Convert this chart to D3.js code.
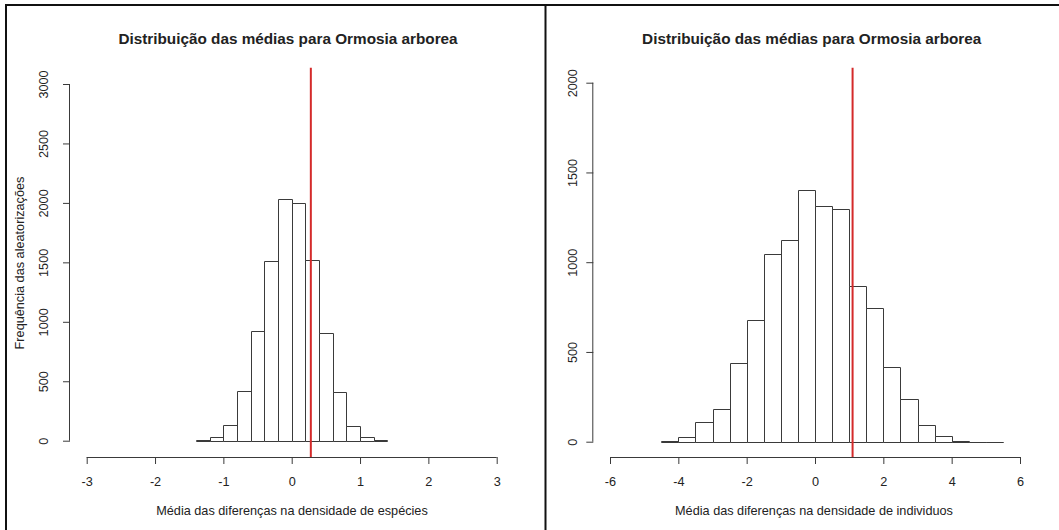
<!DOCTYPE html>
<html lang="pt">
<head>
<meta charset="UTF-8">
<title>Distribuição das médias para Ormosia arborea</title>
<script src="https://cdn.jsdelivr.net/npm/d3@7"></script>
<style>
    body{ margin:0; background:#fff; }
    text{ font-family: "Liberation Sans", Arial, sans-serif; fill:#222; }
    .title{ font-size:15.3px; font-weight:bold; }
    .tick text{ font-size:12.7px; }
    .axlab{ font-size:12.7px; }
</style>
</head>
<body>
<div id="chart"></div>
<script>
    // ---------- data ----------
    const title = "Distribuição das médias para Ormosia arborea";

    const speciesBreaks = [-1.4,-1.2,-1.0,-0.8,-0.6,-0.4,-0.2,0,0.2,0.4,0.6,0.8,1.0,1.2,1.4];
    const speciesCounts = [2,28,132,415,922,1511,2035,1995,1520,908,406,123,28,2];
    const speciesObserved = 0.28;
    const speciesXTicks = [-3,-2,-1,0,1,2,3];
    const speciesYTicks = [0,500,1000,1500,2000,2500,3000];

    const indivBreaks = [-4.5,-4,-3.5,-3,-2.5,-2,-1.5,-1,-0.5,0,0.5,1,1.5,2,2.5,3,3.5,4,4.5,5,5.5];
    const indivCounts = [6,26,110,182,436,678,1044,1122,1402,1311,1298,867,747,414,236,93,30,4,1,1];
    const indivObserved = 1.1;
    const indivXTicks = [-6,-4,-2,0,2,4,6];
    const indivYTicks = [0,500,1000,1500,2000];

    const width = 1059, height = 530;
    const svg = d3.select("#chart").append("svg")
        .attr("width", width).attr("height", height);

    // frame lines of the screenshot
    svg.append("line").attr("x1",6).attr("x2",6).attr("y1",4).attr("y2",height)
        .attr("stroke","#111").attr("stroke-width",2);
    svg.append("line").attr("x1",5).attr("x2",width).attr("y1",5).attr("y2",5)
        .attr("stroke","#111").attr("stroke-width",2);
    svg.append("line").attr("x1",545.5).attr("x2",545.5).attr("y1",4).attr("y2",height)
        .attr("stroke","#111").attr("stroke-width",2);

    function histPanel(o){
        const g = svg.append("g");
        const x = d3.scaleLinear().domain(d3.extent(o.xTicks)).range(o.xRange);
        const y = d3.scaleLinear().domain(d3.extent(o.yTicks)).range(o.yRange);
        const lineCol = "#3a3a3a";

        // title
        g.append("text").attr("class","title")
            .attr("x", o.titleX).attr("y", 44.3)
            .attr("text-anchor","middle").text(title);

        // bars (paths, so empty bins still show as a flat line)
        const bins = o.counts.map((c,i)=>({x0:o.breaks[i], x1:o.breaks[i+1], n:c}));
        const base = Math.round(y(0))+0.5;
        g.selectAll("path.bar").data(bins).join("path")
            .attr("class","bar")
            .attr("d", d=>{
                const a = Math.round(x(d.x0))+0.5, b = Math.round(x(d.x1))+0.5;
                const t = Math.min(Math.round(y(d.n))+0.5, base);
                return `M${a},${base}V${t}H${b}V${base}Z`;
            })
            .attr("fill","#fff").attr("stroke",lineCol).attr("stroke-width",1);

        // x axis
        const xa = g.append("g").attr("transform",`translate(0,${o.axisY})`)
            .call(d3.axisBottom(x).tickValues(o.xTicks).tickSize(7)
                .tickFormat(d3.format("d")).tickSizeOuter(0));
        xa.select(".domain").attr("d",`M${x(o.xTicks[0])},0.5H${x(o.xTicks[o.xTicks.length-1])}`)
            .attr("stroke",lineCol);
        xa.selectAll(".tick line").attr("stroke",lineCol);
        xa.selectAll(".tick text").attr("fill","#222").attr("y",29).attr("dy",0)
            .text(d=>String(d).replace("−","-"));

        // y axis
        const ya = g.append("g").attr("transform",`translate(${o.axisX},0)`)
            .call(d3.axisLeft(y).tickValues(o.yTicks).tickSize(7).tickFormat(d3.format("d")).tickSizeOuter(0));
        ya.select(".domain").attr("d",`M-0.5,${y(o.yTicks[0])}V${y(o.yTicks[o.yTicks.length-1])}`)
            .attr("stroke",lineCol);
        ya.selectAll(".tick line").attr("stroke",lineCol);
        ya.selectAll(".tick text")
            .attr("x",null).attr("dy",null)
            .attr("text-anchor","middle")
            .attr("transform",`translate(${o.yLabelX - o.axisX + 4.6},0) rotate(-90)`)
            .attr("fill","#222");

        // observed value
        g.append("line")
            .attr("x1", x(o.observed)).attr("x2", x(o.observed))
            .attr("y1", 67.7).attr("y2", o.axisY)
            .attr("stroke","#d42a2a").attr("stroke-width",2);

        // axis titles
        g.append("text").attr("class","axlab")
            .attr("x", o.xTitleX).attr("y", 515)
            .attr("text-anchor","middle").text(o.xTitle);
        if(o.yTitle){
            g.append("text").attr("class","axlab")
                .attr("transform",`translate(23.5,263) rotate(-90)`)
                .attr("text-anchor","middle").text(o.yTitle);
        }
    }

    histPanel({
        breaks: speciesBreaks, counts: speciesCounts, observed: speciesObserved,
        xTicks: speciesXTicks, yTicks: speciesYTicks,
        xRange:[86.7,496.7], yRange:[440.7,84],
        axisY:457, axisX:70, yLabelX:43, titleX:288, xTitleX:292,
        xTitle:"Média das diferenças na densidade de espécies",
        yTitle:"Frequência das aleatorizações"
    });

    histPanel({
        breaks: indivBreaks, counts: indivCounts, observed: indivObserved,
        xTicks: indivXTicks, yTicks: indivYTicks,
        xRange:[610,1020], yRange:[441.7,82.7],
        axisY:457, axisX:593.3, yLabelX:572.7, titleX:811.7, xTitleX:814,
        xTitle:"Média das diferenças na densidade de individuos",
        yTitle:null
    });
</script>
</body>
</html>
